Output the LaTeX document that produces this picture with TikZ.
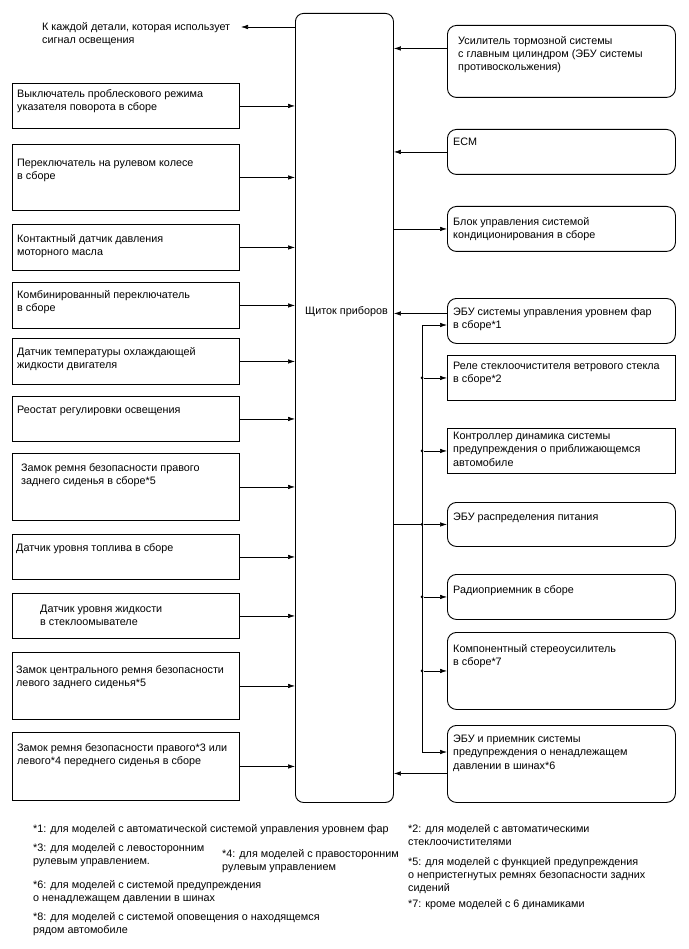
\documentclass[tikz,border=0pt]{standalone}
\usepackage{fontspec}
\setmainfont{Liberation Sans}
\usetikzlibrary{arrows.meta}

\begin{document}
\begin{tikzpicture}[x=1pt,y=-1pt,
  box/.style={draw,line width=0.9pt,anchor=north west,inner sep=0pt},
  rbox/.style={box,rounded corners=9pt},
  txt/.style={anchor=north west,inner sep=0pt,align=left,font=\fontsize{10.8}{13.2}\selectfont},
  con/.style={line width=0.6pt,-{Latex[length=7pt,width=4.5pt]}},
  bus/.style={line width=0.6pt},
  dot/.style={circle,fill,inner sep=0pt,minimum size=3pt}]
  \useasboundingbox (0,0) rectangle (688,949);

  \node[box,rounded corners=8pt,minimum width=98,minimum height=789] (ipc) at (295,13) {};
  \node[txt] (ipclbl) at (305,306) {Щиток приборов};

  \node[box,minimum width=227,minimum height=45] (b1) at (12,83) {};
  \node[box,minimum width=227,minimum height=66] (b2) at (12,144) {};
  \node[box,minimum width=227,minimum height=46] (b3) at (12,224) {};
  \node[box,minimum width=227,minimum height=46] (b4) at (12,282) {};
  \node[box,minimum width=227,minimum height=46] (b5) at (12,338) {};
  \node[box,minimum width=227,minimum height=45] (b6) at (12,396) {};
  \node[box,minimum width=227,minimum height=67] (b7) at (12,453) {};
  \node[box,minimum width=227,minimum height=45] (b8) at (12,534) {};
  \node[box,minimum width=227,minimum height=45] (b9) at (12,593) {};
  \node[box,minimum width=227,minimum height=67] (b10) at (12,652) {};
  \node[box,minimum width=227,minimum height=68] (b11) at (12,732) {};

  \node[txt] (t1) at (17,89) {Выключатель проблескового режима\\указателя поворота в сборе};
  \node[txt] (t2) at (17,159) {Переключатель на рулевом колесе\\в сборе};
  \node[txt] (t3) at (17,234) {Контактный датчик давления\\моторного масла};
  \node[txt] (t4) at (17,290) {Комбинированный переключатель\\в сборе};
  \node[txt] (t5) at (17,347) {Датчик температуры охлаждающей\\жидкости двигателя};
  \node[txt] (t6) at (17,406) {Реостат регулировки освещения};
  \node[txt] (t7) at (21,463) {Замок ремня безопасности правого\\заднего сиденья в сборе*5};
  \node[txt] (t8) at (16,543) {Датчик уровня топлива в сборе};
  \node[txt] (t9) at (40,605) {Датчик уровня жидкости\\в стеклоомывателе};
  \node[txt] (t10) at (16,665) {Замок центрального ремня безопасности\\левого заднего сиденья*5};
  \node[txt] (t11) at (17,743) {Замок ремня безопасности правого*3 или\\левого*4 переднего сиденья в сборе};

  \draw[con] (b1.east) -- (b1.east -| ipc.west);
  \draw[con] (b2.east) -- (b2.east -| ipc.west);
  \draw[con] (b3.east) -- (b3.east -| ipc.west);
  \draw[con] (b4.east) -- (b4.east -| ipc.west);
  \draw[con] (b5.east) -- (b5.east -| ipc.west);
  \draw[con] (b6.east) -- (b6.east -| ipc.west);
  \draw[con] (b7.east) -- (b7.east -| ipc.west);
  \draw[con] (b8.east) -- (b8.east -| ipc.west);
  \draw[con] (b9.east) -- (b9.east -| ipc.west);
  \draw[con] (b10.east) -- (b10.east -| ipc.west);
  \draw[con] (b11.east) -- (b11.east -| ipc.west);

  \node[txt] (dest) at (42,22) {К каждой детали, которая использует\\сигнал освещения};
  \coordinate (lt) at (241,27);
  \draw[con] (lt -| ipc.west) -- (lt);

  \node[rbox,minimum width=228,minimum height=72] (r1) at (447,25) {};
  \node[rbox,minimum width=228,minimum height=45] (r2) at (447,129) {};
  \node[rbox,minimum width=228,minimum height=45] (r3) at (447,206) {};
  \node[rbox,minimum width=228,minimum height=45] (r4) at (447,298) {};
  \node[box,minimum width=228,minimum height=45] (r5) at (447,355) {};
  \node[box,minimum width=228,minimum height=45] (r6) at (447,428) {};
  \node[rbox,minimum width=228,minimum height=44] (r7) at (447,502) {};
  \node[rbox,minimum width=228,minimum height=45] (r8) at (447,574) {};
  \node[rbox,minimum width=228,minimum height=77] (r9) at (447,632) {};
  \node[rbox,minimum width=228,minimum height=77] (r10) at (447,725) {};

  \node[txt] (s1) at (458,36) {Усилитель тормозной системы\\с главным цилиндром (ЭБУ системы\\противоскольжения)};
  \node[txt] (s2) at (453,138) {ECM};
  \node[txt] (s3) at (453,217) {Блок управления системой\\кондиционирования в сборе};
  \node[txt] (s4) at (453,307) {ЭБУ системы управления уровнем фар\\в сборе*1};
  \node[txt] (s5) at (453,362) {Реле стеклоочистителя ветрового стекла\\в сборе*2};
  \node[txt] (s6) at (453,432) {Контроллер динамика системы\\предупреждения о приближающемся\\автомобиле};
  \node[txt] (s7) at (453,513) {ЭБУ распределения питания};
  \node[txt] (s8) at (453,585) {Радиоприемник в сборе};
  \node[txt] (s9) at (453,644) {Компонентный стереоусилитель\\в сборе*7};
  \node[txt] (s10) at (453,735) {ЭБУ и приемник системы\\предупреждения о ненадлежащем\\давлении в шинах*6};

  \coordinate (r1p) at ([yshift=13pt]r1.west);
  \coordinate (r4p) at ([yshift=7.5pt]r4.west);
  \coordinate (r10p) at ([yshift=-9.5pt]r10.west);
  \draw[con] (r1p) -- (r1p -| ipc.east);
  \draw[con] (r2.west) -- (r2.west -| ipc.east);
  \draw[con] (r3.west -| ipc.east) -- (r3.west);
  \draw[con] (r4p) -- (r4p -| ipc.east);
  \draw[con] (r10p) -- (r10p -| ipc.east);

  \coordinate (bt) at (422,325);
  \coordinate (bb) at (422,752);
  \draw[bus] (bt) -- (bb);
  \draw[bus] (ipc.east |- r7.west) -- (bt |- r7.west);
  \draw[con] (bt) -- (bt -| r4.west);
  \draw[con] (bb) -- (bb -| r10.west);
  \node[dot] (d5) at (bt |- r5.west) {};
  \node[dot] (d6) at (bt |- r6.west) {};
  \node[dot] (d7) at (bt |- r7.west) {};
  \node[dot] (d8) at (bt |- r8.west) {};
  \node[dot] (d9) at (bt |- r9.west) {};
  \draw[con] (d5) -- (r5.west);
  \draw[con] (d6) -- (r6.west);
  \draw[con] (d7) -- (r7.west);
  \draw[con] (d8) -- (r8.west);
  \draw[con] (d9) -- (r9.west);

  \node[txt] (f1) at (33,824) {*1: для моделей с автоматической системой управления уровнем фар};
  \node[txt] (f2) at (408,824) {*2: для моделей с автоматическими\\стеклоочистителями};
  \node[txt] (f3) at (33,843) {*3: для моделей с левосторонним\\рулевым управлением.};
  \node[txt] (f4) at (222,849) {*4: для моделей с правосторонним\\рулевым управлением};
  \node[txt] (f5) at (408,857) {*5: для моделей с функцией предупреждения\\о непристегнутых ремнях безопасности задних\\сидений};
  \node[txt] (f6) at (33,880) {*6: для моделей с системой предупреждения\\о ненадлежащем давлении в шинах};
  \node[txt] (f7) at (408,899) {*7: кроме моделей с 6 динамиками};
  \node[txt] (f8) at (33,912) {*8: для моделей с системой оповещения о находящемся\\рядом автомобиле};
\end{tikzpicture}
\end{document}
